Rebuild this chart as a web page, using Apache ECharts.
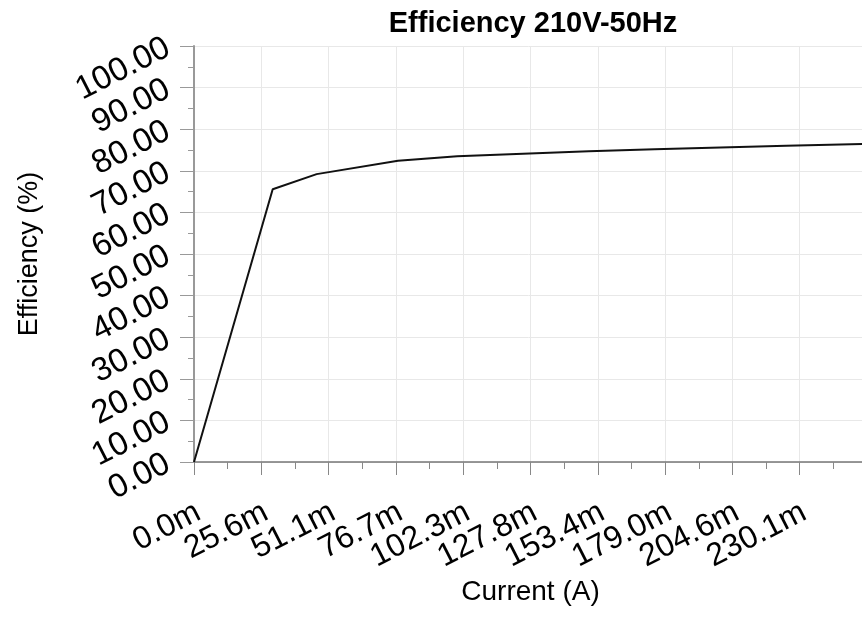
<!DOCTYPE html>
<html>
<head>
<meta charset="utf-8">
<script src="https://cdn.jsdelivr.net/npm/echarts@6/dist/echarts.min.js"></script>
<style>
html,body{margin:0;padding:0;background:#fff;}
#chart{width:862px;height:620px;}
</style>
</head>
<body>
<div id="chart"></div>
<script>
// Data (current in A, efficiency in %)
var currentA = [0, 0.0299, 0.0466, 0.0775, 0.100, 0.125, 0.150, 0.175, 0.200, 0.225, 0.2557];
var efficiency = [0, 65.55, 69.2, 72.4, 73.5, 74.1, 74.7, 75.2, 75.6, 76.0, 76.45];
var xTickLabels = ['0.0m','25.6m','51.1m','76.7m','102.3m','127.8m','153.4m','179.0m','204.6m','230.1m',''];
var yTickStep = 10;
var xTickStep = 0.0255695;
var titleText = 'Efficiency 210V-50Hz';

var chart = echarts.init(document.getElementById('chart'), null, {renderer:'canvas'});
var pts = currentA.map(function(c,i){return [c, efficiency[i]];});
var font = 'Liberation Sans, Arial, Helvetica, sans-serif';
var xMax = xTickStep * (xTickLabels.length - 1);
var xLabelStyle = {
  rotate:27, margin:33, fontFamily:font, fontSize:32, color:'#000',
  verticalAlign:'top', padding:[0,3,0,0], hideOverlap:false
};
chart.setOption({
  backgroundColor:'#fff',
  animation:false,
  title:{
    text:titleText, left:528, textAlign:'center', top:4,
    textStyle:{fontFamily:font, fontWeight:'bold', fontSize:29, color:'#000'}
  },
  grid:{left:194, top:46, right:-5, bottom:158, containLabel:false, outerBoundsMode:'none'},
  xAxis:[{
    type:'value', min:0, max:xMax, interval:xTickStep,
    name:'Current (A)', nameLocation:'middle', nameGap:116, nameMoveOverlap:false,
    nameTextStyle:{fontFamily:font, fontSize:28, color:'#000'},
    axisLine:{show:true, onZero:false, lineStyle:{color:'#777', width:1.5}},
    axisTick:{show:true, length:13, lineStyle:{color:'#888', width:1}},
    minorTick:{show:true, splitNumber:2, length:7, lineStyle:{color:'#888', width:1}},
    splitLine:{show:true, lineStyle:{color:'#e8e8e8', width:1}},
    axisLabel:Object.assign({}, xLabelStyle, {
      showMaxLabel:false,
      formatter:function(v, i){return i === 0 ? '' : (xTickLabels[i] || '');}
    })
  },{
    // carries only the first tick label so that ECharts' min-label overlap rule keeps all labels
    type:'value', min:0, max:xMax, interval:xTickStep, position:'bottom',
    axisLine:{show:false}, axisTick:{show:false}, minorTick:{show:false}, splitLine:{show:false},
    axisLabel:Object.assign({}, xLabelStyle, {
      showMinLabel:true, showMaxLabel:false,
      formatter:function(v, i){return i === 0 ? xTickLabels[0] : '';}
    })
  }],
  yAxis:{
    type:'value', min:0, max:100, interval:yTickStep,
    name:'Efficiency (%)', nameLocation:'middle', nameGap:151, nameMoveOverlap:false,
    nameTextStyle:{fontFamily:font, fontSize:27, color:'#000'},
    axisLine:{show:true, lineStyle:{color:'#999', width:2}},
    axisTick:{show:true, length:14, lineStyle:{color:'#999', width:1}},
    minorTick:{show:true, splitNumber:2, length:6, lineStyle:{color:'#999', width:1}},
    splitLine:{show:true, lineStyle:{color:'#e8e8e8', width:1}},
    axisLabel:{
      rotate:27, margin:26, fontFamily:font, fontSize:33, color:'#000', hideOverlap:false,
      formatter:function(v){return v.toFixed(2);}
    }
  },
  series:[{
    type:'line', xAxisIndex:0, data:pts, showSymbol:false, symbol:'none', smooth:false,
    lineStyle:{color:'#111', width:2}
  }]
});
</script>
</body>
</html>
